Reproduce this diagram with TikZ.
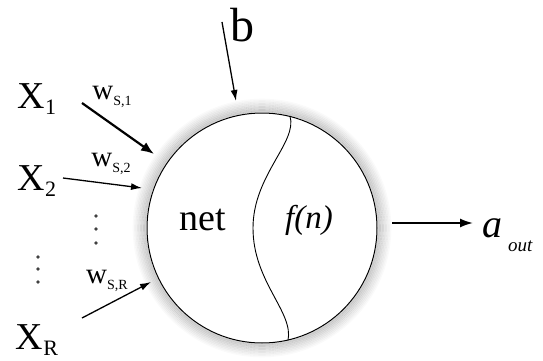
\documentclass[tikz,border=0pt]{standalone}
\usepackage{fontspec}
\setmainfont{Liberation Serif}
\usetikzlibrary{arrows.meta}
\newcommand{\wlab}[1]{w\raisebox{-0.45ex}{\fontsize{14}{14}\selectfont #1}}
\tikzset{
  inarrow/.style={line width=1.3pt, -{Latex[length=11pt,width=7pt]}},
  boldarrow/.style={line width=2.2pt, -{Latex[length=13pt,width=10pt]}},
  xlab/.style={font=\fontsize{38}{42}\selectfont, inner sep=0pt},
  wlabel/.style={font=\fontsize{29}{32}\selectfont, inner sep=0pt},
  vdot/.style={fill=black!75, draw=none}
}

\begin{document}
\begin{tikzpicture}[x=1pt,y=-1pt]
\useasboundingbox (0,0) rectangle (543,361);
% soft glow round the neuron
\foreach \i in {1,...,9}
  \draw[black, opacity={0.2-0.02*\i}, line width=1.6pt] (262,228) circle ({115pt+\i*1.5pt});
\node[draw, circle, fill=white, minimum size=230pt, inner sep=0pt, line width=1pt] (neuron) at (262,228) {};
% dividing curve
\coordinate (mid) at (253,228);
\draw[line width=0.9pt] (neuron.76) .. controls (298,142) and (253,175) .. (mid)
  .. controls (253,282) and (294,312) .. (neuron.-77);
\node[font=\fontsize{38}{42}\selectfont] (net) at (203,220) {net};
\node[font=\fontsize{33}{36}\selectfont\itshape] (fn) at (309,220) {f(n)};

% inputs
\node[xlab] (x1) at (37,99) {X\raisebox{-0.35ex}{\fontsize{22}{24}\selectfont 1}};
\node[xlab] (x2) at (37,181) {X\raisebox{-0.35ex}{\fontsize{22}{24}\selectfont 2}};
\node[xlab] (xr) at (37,340) {X\raisebox{-0.35ex}{\fontsize{22}{24}\selectfont R}};
\node[wlabel] (w1) at (112,97) {\wlab{S,1}};
\node[wlabel] (w2) at (111,164) {\wlab{S,2}};
\node[wlabel] (wr) at (107,281) {\wlab{S,R}};
\coordinate (x1s) at (82,103);
\coordinate (x1t) at (154,154);
\coordinate (x2s) at (63,178);
\coordinate (x2t) at (142,188);
\coordinate (xrs) at (82,318);
\coordinate (xrt) at (151,282);
\draw[boldarrow] (x1s) -- (x1t);
\draw[inarrow] (x2s) -- (x2t);
\draw[inarrow] (xrs) -- (xrt);
\foreach \y in {257,269,282} \fill[vdot] (38,\y) circle (1.8pt);
\foreach \y in {216,229,243} \fill[vdot] (96,\y) circle (1.8pt);

% bias
\node[font=\fontsize{48}{50}\selectfont, inner sep=0pt] (b) at (242,25) {b};
\coordinate (bs) at (222,22);
\coordinate (bt) at (236,101);
\draw[inarrow] (bs) -- (bt);

% output
\coordinate (outs) at (392,223);
\coordinate (outt) at (473,223);
\draw[line width=1.8pt, -{Latex[length=13pt,width=9pt]}] (outs) -- (outt);
\node[font=\fontsize{40}{44}\selectfont\itshape, inner sep=0pt, anchor=base west] (aout) at (482,237)
  {a\raisebox{-0.8ex}{\fontsize{19}{20}\selectfont\hspace{6pt}out}};
\end{tikzpicture}
\end{document}
